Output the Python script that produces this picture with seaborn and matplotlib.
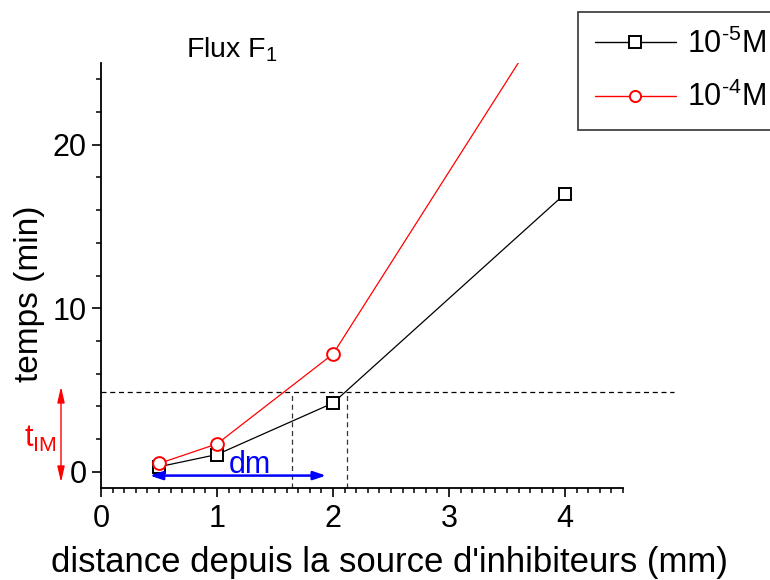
import matplotlib
matplotlib.use("Agg")
import matplotlib.pyplot as plt
from matplotlib.ticker import MultipleLocator
import seaborn as sns
import pandas as pd

# Measured delay times versus distance from the inhibitor source
dist_low = [0.5, 1.0, 2.0, 4.0]
time_low = [0.3, 1.05, 4.2, 17.0]
dist_high = [0.5, 1.0, 2.0, 4.0]
time_high = [0.5, 1.7, 7.2, 29.5]
series_labels = ["10$^{\\text{-5}}$M", "10$^{\\text{-4}}$M"]

# Threshold time and the distances where each curve crosses it
t_threshold = 4.85
x_cross = [1.65, 2.12]

sns.set_style("ticks")
plt.rcParams["font.family"] = ["Liberation Sans", "DejaVu Sans"]
plt.rcParams["mathtext.fontset"] = "custom"
plt.rcParams["mathtext.rm"] = "Liberation Sans"
plt.rcParams["mathtext.it"] = "Liberation Sans:italic"
plt.rcParams["mathtext.bf"] = "Liberation Sans:bold"
for key in ["text.color", "axes.labelcolor", "xtick.color", "ytick.color",
            "axes.edgecolor"]:
    plt.rcParams[key] = "black"

df = pd.concat([
    pd.DataFrame({"x": dist_low, "y": time_low, "serie": series_labels[0]}),
    pd.DataFrame({"x": dist_high, "y": time_high, "serie": series_labels[1]}),
])

fig = plt.figure(figsize=(7.7, 5.8), dpi=100)
ax = fig.add_axes([0.1312, 0.1586, 0.678, 0.7328])

sns.lineplot(
    data=df, x="x", y="y", hue="serie", style="serie",
    palette={series_labels[0]: "black", series_labels[1]: "red"},
    markers={series_labels[0]: "s", series_labels[1]: "o"},
    dashes=False, linewidth=0.9, markersize=8,
    markerfacecolor="white", markeredgewidth=1.4,
    ax=ax, legend=True,
)
for line, ms in zip(ax.get_lines()[:2], [8.2, 9.2]):
    line.set_markersize(ms)
    line.set_markeredgecolor(line.get_color())

ax.set_xlim(0, 4.5)
ax.set_ylim(-1, 25)

ax.xaxis.set_major_locator(MultipleLocator(1))
ax.xaxis.set_minor_locator(MultipleLocator(0.1))
ax.yaxis.set_major_locator(MultipleLocator(10))
ax.yaxis.set_minor_locator(MultipleLocator(2))
ax.tick_params(which="major", length=6.5, width=1.2, labelsize=22,
               color="black", labelcolor="black")
ax.tick_params(which="minor", length=3.5, width=1.1, color="black")
ax.tick_params(axis="x", which="major", pad=5)
ax.tick_params(axis="y", which="major", pad=4)

for side in ["top", "right"]:
    ax.spines[side].set_visible(False)
for side in ["left", "bottom"]:
    ax.spines[side].set_linewidth(1.3)
    ax.spines[side].set_color("black")

ax.set_xlabel("distance depuis la source d'inhibiteurs (mm)", fontsize=25,
              labelpad=8.5, color="black")
ax.set_ylabel("temps (min)", fontsize=24, labelpad=5, color="black")
ax.xaxis.label.set_x((389 - 101) / 522)
ax.yaxis.label.set_y((488 - 294) / 425)

# Threshold lines
dash = (0, (4, 3))
ax.plot([0, 4.94], [t_threshold, t_threshold], color="black", lw=0.9,
        linestyle=dash, clip_on=False)
for xc in x_cross:
    ax.plot([xc, xc], [-1, t_threshold], color="#333333", lw=0.9,
            linestyle=dash, clip_on=False)

# Annotations
ax.text(0.735, 25.33, "Flux F$_{\\mathregular{1}}$", fontsize=20.5, ha="left",
        va="baseline", clip_on=False)
ax.annotate("", xy=(-0.345, -0.65), xytext=(-0.345, 5.2),
            arrowprops=dict(arrowstyle="<|-|>,head_length=0.95,head_width=0.22",
                            color="red", lw=1.0, shrinkA=0, shrinkB=0),
            annotation_clip=False)
ax.text(-0.665, 1.5, "t$_{\\mathregular{IM}}$", color="red", fontsize=22,
        ha="left", va="baseline", clip_on=False)
ax.annotate("", xy=(0.42, -0.24), xytext=(1.94, -0.24),
            arrowprops=dict(arrowstyle="<|-|>,head_length=0.75,head_width=0.25",
                            color="blue", lw=1.8, shrinkA=0, shrinkB=0),
            annotation_clip=False)
ax.text(1.10, -0.08, "dm", color="blue", fontsize=22, ha="left", va="baseline")

# Legend
leg = ax.legend(loc="upper left", bbox_to_anchor=(578 / 770, 1 - 12 / 580),
                bbox_transform=fig.transFigure, fontsize=22, frameon=True,
                fancybox=False, edgecolor="black", handlelength=2.65,
                handletextpad=0.36, borderpad=0.55, labelspacing=0.72,
                borderaxespad=0)
leg.get_frame().set_linewidth(1.2)
for t in leg.get_texts():
    t.set_color("black")
for h in leg.legend_handles:
    h.set_markerfacecolor("white")
    h.set_markeredgecolor(h.get_color())
    h.set_linewidth(1.0)

fig.savefig("out.png", dpi=100)
